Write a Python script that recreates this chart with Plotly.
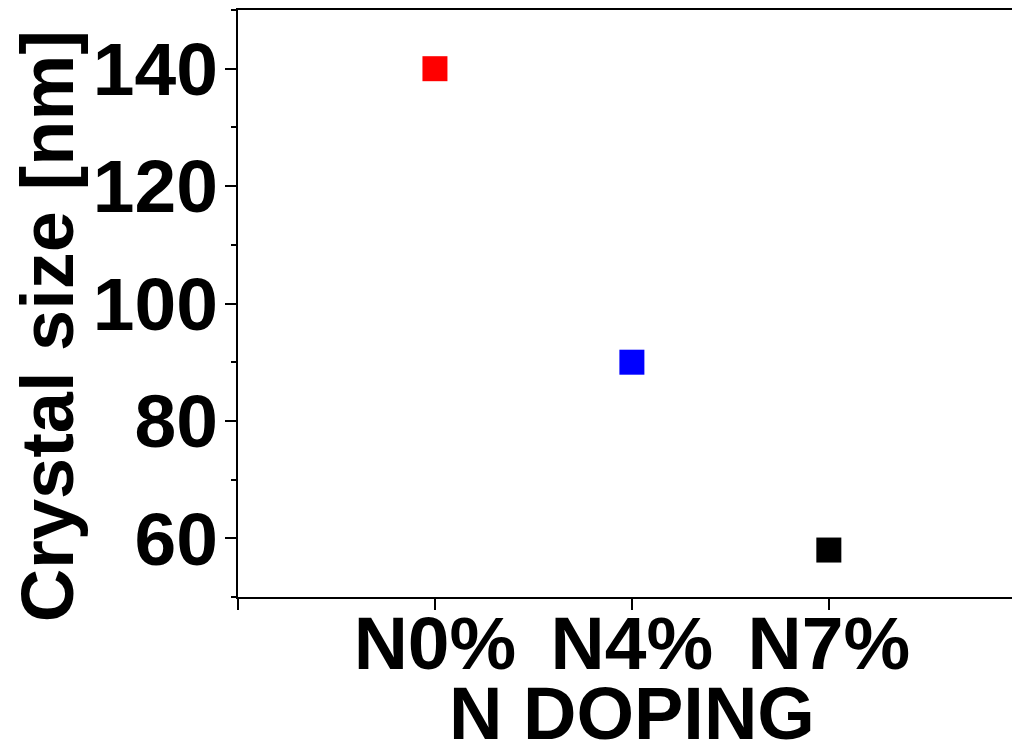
import plotly.graph_objects as go

categories = ["N0%", "N4%", "N7%"]
crystal_size = [140, 90, 58]
colors = ["#FF0000", "#0000FF", "#000000"]
y_ticks = [60, 80, 100, 120, 140]

FONT = "Liberation Sans, Arial, sans-serif"

fig = go.Figure()
fig.add_trace(go.Scatter(
    x=list(range(len(categories))),
    y=crystal_size,
    mode="markers",
    marker=dict(symbol="square", size=25, color=colors, line=dict(width=0)),
    showlegend=False,
))

fig.update_layout(
    width=1012, height=750,
    margin=dict(l=238, r=0, t=10, b=153),
    paper_bgcolor="white", plot_bgcolor="white",
    font=dict(family=FONT, size=75, color="black", weight="bold"),
    xaxis=dict(
        range=[-1, 2.93],
        tickvals=[-1, 0, 1, 2],
        ticktext=[""] + categories,
        ticks="outside", ticklen=11, tickwidth=2, tickcolor="black",
        ticklabelstandoff=-31,
        showline=True, linecolor="black", linewidth=2, mirror=True,
        showgrid=False, zeroline=False,
        tickfont=dict(family=FONT, size=75, color="black", weight="bold"),
    ),
    yaxis=dict(
        range=[50, 150],
        tickvals=y_ticks,
        ticks="outside", ticklen=11, tickwidth=2, tickcolor="black",
        ticklabelstandoff=-8,
        minor=dict(ticks="outside", ticklen=5, tickwidth=2, tickcolor="black", dtick=10, tick0=50),
        showline=True, linecolor="black", linewidth=2,
        showgrid=False, zeroline=False,
        tickfont=dict(family=FONT, size=75, color="black", weight="bold"),
    ),
    annotations=[
        dict(text="Crystal size [nm]", xref="paper", yref="paper",
             x=-0.245, y=0.4617, xanchor="center", yanchor="middle",
             textangle=-90, showarrow=False,
             font=dict(family=FONT, size=74, color="black", weight="bold")),
        dict(text="N DOPING", xref="x", yref="paper",
             x=1, y=-0.199, xanchor="center", yanchor="middle",
             showarrow=False,
             font=dict(family=FONT, size=74, color="black", weight="bold")),
    ],
)

fig.write_html("out.html")
